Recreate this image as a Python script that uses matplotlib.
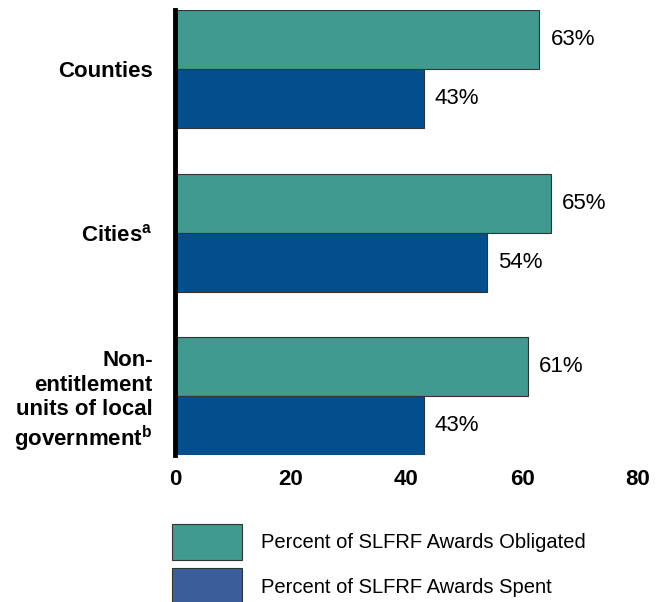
import matplotlib.pyplot as plt
from matplotlib.patches import Patch
import numpy as np

plt.rcParams['font.family'] = ['Liberation Sans', 'DejaVu Sans']
plt.rcParams['mathtext.fontset'] = 'custom'
plt.rcParams['mathtext.rm'] = 'Liberation Sans'
plt.rcParams['mathtext.bf'] = 'Liberation Sans:bold'

# Data
categories = ['Counties', 'Cities$^{\\mathbf{a}}$',
              'Non-\nentitlement\nunits of local\ngovernment$^{\\mathbf{b}}$']
obligated = [63, 65, 61]
spent = [43, 54, 43]
series_names = ['Percent of SLFRF Awards Obligated', 'Percent of SLFRF Awards Spent']
x_ticks = [0, 20, 40, 60, 80]

teal = '#409a8f'
navy = '#034f8e'
navy_legend = '#3a5e99'

fig = plt.figure(figsize=(6.65, 6.02), dpi=100)
ax = fig.add_axes([0.263, 0.244, 0.696, 0.739])

y = np.arange(len(categories))
h = 0.36
b1 = ax.barh(y - h / 2, obligated, height=h, color=teal, edgecolor='#333333', linewidth=0.8)
b2 = ax.barh(y + h / 2, spent, height=h, color=navy, edgecolor='#333333', linewidth=0.8)
ax.bar_label(b1, labels=[f'{v}%' for v in obligated], padding=8, fontsize=16)
ax.bar_label(b2, labels=[f'{v}%' for v in spent], padding=8, fontsize=16)

ax.set_ylim(2 + h, -h)
ax.set_xlim(0, 80)
ax.set_yticks(y)
ax.set_yticklabels(categories, fontsize=16, fontweight='bold', linespacing=1.2)
ax.set_xticks(x_ticks)
ax.set_xticklabels([str(t) for t in x_ticks], fontsize=16, fontweight='bold')
ax.tick_params(axis='y', length=0, pad=16)
ax.tick_params(axis='x', length=0, pad=10)

for s in ['top', 'right', 'bottom']:
    ax.spines[s].set_visible(False)
ax.spines['left'].set_linewidth(3.5)
ax.spines['left'].set_color('black')

handles = [Patch(facecolor=teal, edgecolor='#333333', linewidth=0.8),
           Patch(facecolor=navy_legend, edgecolor='#333333', linewidth=0.8)]
fig.legend(handles, series_names, loc='upper left', bbox_to_anchor=(0.258, 0.13),
           frameon=False, fontsize=14.5, handlelength=3.5, handleheight=2.4,
           labelspacing=0.4, handletextpad=0.95, borderpad=0, borderaxespad=0)

fig.savefig('out.png', dpi=100)
